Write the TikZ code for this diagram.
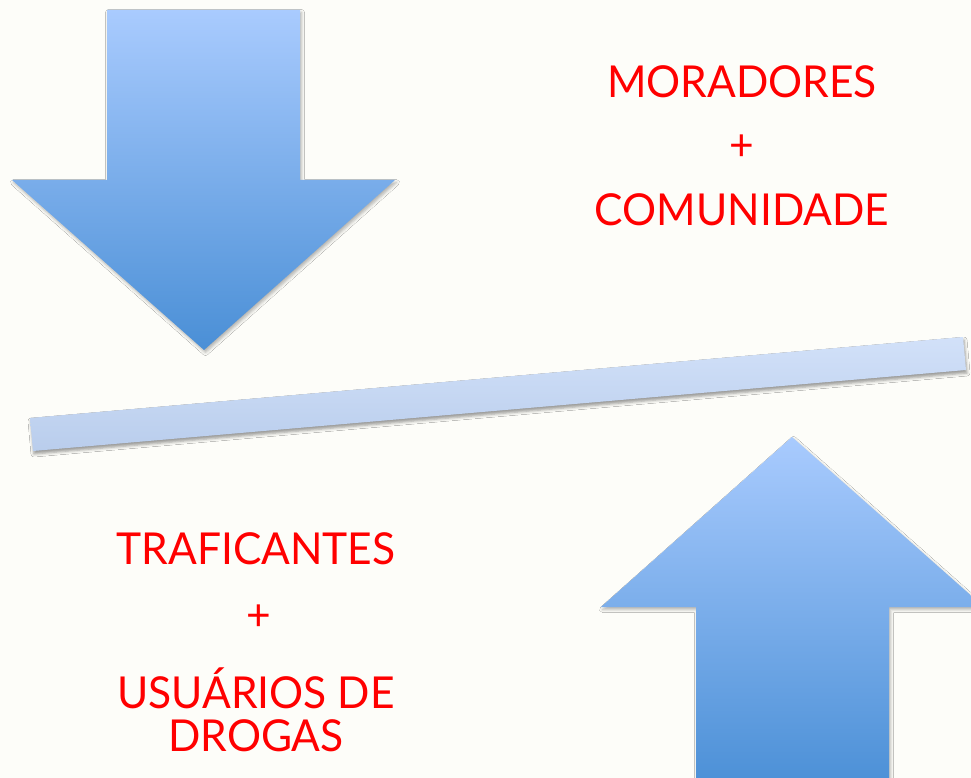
\documentclass[tikz,border=0pt]{standalone}
\usepackage{fontspec}
\setmainfont{Lato}[FakeStretch=0.967]
\usetikzlibrary{shadows.blur}
\definecolor{bgc}{HTML}{FDFDF9}
\definecolor{arrtop}{HTML}{A9CBFE}
\definecolor{arrbot}{HTML}{4A8FD6}
\definecolor{bartop}{HTML}{D2E1F9}
\definecolor{barbot}{HTML}{B9CDEC}
\definecolor{txtred}{HTML}{FF0000}
\begin{document}
\begin{tikzpicture}[x=1pt,y=-1pt,
  bigarrow/.style={top color=arrtop, bottom color=arrbot, draw=none,
    blur shadow={shadow xshift=1.5pt, shadow yshift=-2.5pt, shadow blur radius=3pt, shadow opacity=30}},
  barstyle/.style={top color=bartop, bottom color=barbot, draw=none,
    blur shadow={shadow xshift=1pt, shadow yshift=-3pt, shadow blur radius=3pt, shadow opacity=40}},
  lbl/.style={text=txtred, font=\fontsize{44}{48}\selectfont, inner sep=0pt}]
\fill[bgc] (0,0) rectangle (971,778);
\useasboundingbox (0,0) rectangle (971,778);
% down arrow
\path[bigarrow] (107,10) -- (300,10) -- (300,180) -- (395,180) -- (204,350) -- (12,180) -- (107,180) -- cycle;
% bar
\path[barstyle] (30,418) -- (963,337) -- (966,370) -- (33,451) -- cycle;
% up arrow
\begin{scope}
\clip (0,0) rectangle (971,778);
\path[bigarrow] (792,437) -- (984,607) -- (889,607) -- (889,790) -- (696,790) -- (696,607) -- (601,607) -- cycle;
\end{scope}
% texts
\node[lbl, anchor=base] (m1) at (742,98) {MORADORES};
\node[lbl, anchor=center] (m2) at (742,148) {+};
\node[lbl, anchor=base] (m3) at (742,225) {COMUNIDADE};
\node[lbl, anchor=base] (t1) at (256,564) {TRAFICANTES};
\node[lbl, anchor=center] (t2) at (259,618) {+};
\node[lbl, anchor=base] (t3) at (256,708) {USUÁRIOS DE};
\node[lbl, anchor=base] (t4) at (256,751) {DROGAS};
\end{tikzpicture}
\end{document}
